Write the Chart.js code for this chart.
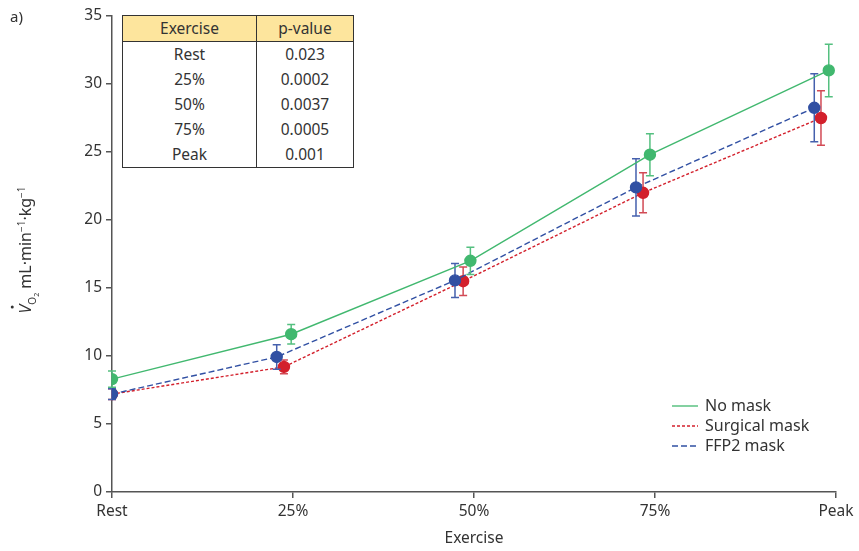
<!DOCTYPE html>
<html>
<head>
  <title>VO2 by exercise level</title>
  <script src="https://cdn.jsdelivr.net/npm/chart.js"></script>
  <style>
    body { margin: 0; background: #fff; font-family: "Noto Sans", sans-serif; color: #333; }
    #wrap { position: relative; width: 859px; height: 551px; }
    #panel { position: absolute; left: 10px; top: 6px; font-size: 15px; }
    #ytitle { position: absolute; left: 27px; top: 250px; transform: translate(-50%, -50%) rotate(-90deg);
      white-space: nowrap; font-size: 16px; }
    #ytitle sub, #ytitle sup { font-size: 10px; }
    #vdot { position: relative; display: inline-block; }
    #vdot b { position: absolute; left: 5px; top: -3px; width: 3px; height: 3px; border-radius: 50%; background: #333; }
    #ptable { position: absolute; left: 122px; top: 15px; border-collapse: collapse; font-size: 15.5px;
      border: 1.5px solid #333; background: #fff; }
    #ptable td, #ptable th { padding: 0; text-align: center; font-weight: normal; height: 25px; line-height: 25px; }
    #ptable th { background: #fde59d; border-bottom: 1.5px solid #333; }
    #ptable .c1 { width: 133px; border-right: 1.5px solid #333; }
    #ptable .c2 { width: 96px; }
  </style>
</head>
<body>
<div id="wrap">
  <canvas id="chart" width="859" height="551"></canvas>
  <div id="panel">a)</div>
  <div id="ytitle"><span id="vdot"><i>V</i><b></b></span><sub>O<sub style="font-size:7px">2</sub></sub> mL·min<sup>−1</sup>·kg<sup>−1</sup></div>
  <table id="ptable"></table>
</div>

<script>
  const categories = ["Rest", "25%", "50%", "75%", "Peak"];

  const noMask = [8.3, 11.6, 17.0, 24.8, 31.0];
  const noMaskErr = [0.6, 0.72, 1.0, 1.55, 1.93];
  const surgical = [7.2, 9.2, 15.5, 22.0, 27.5];
  const surgicalErr = [0.4, 0.5, 1.05, 1.47, 2.0];
  const ffp2 = [7.2, 9.93, 15.56, 22.4, 28.25];
  const ffp2Err = [0.4, 0.9, 1.25, 2.1, 2.5];

  // horizontal jitter of each series, in category units
  const noMaskShift = [0, -0.01, -0.02, -0.028, -0.04];
  const surgicalShift = [0, -0.05, -0.06, -0.066, -0.083];
  const ffp2Shift = [0, -0.09, -0.105, -0.105, -0.12];

  const pExercise = ["Rest", "25%", "50%", "75%", "Peak"];
  const pValues = ["0.023", "0.0002", "0.0037", "0.0005", "0.001"];

  // p-value table
  const tbl = document.getElementById("ptable");
  let html = '<tr><th class="c1">Exercise</th><th class="c2">p-value</th></tr>';
  pExercise.forEach((e, i) => {
    html += '<tr><td class="c1">' + e + '</td><td class="c2">' + pValues[i] + '</td></tr>';
  });
  tbl.innerHTML = html;

  function points(vals, shift) {
    return vals.map((v, i) => ({ x: i + shift[i], y: v }));
  }

  const FONT = "'Noto Sans', sans-serif";
  const TEXT = "#333";

  const errorBars = {
    id: "errorBars",
    beforeDatasetDraw(chart, args) {
      const ds = chart.data.datasets[args.index];
      const meta = args.meta;
      const ctx = chart.ctx;
      const y = chart.scales.y;
      ctx.save();
      ctx.strokeStyle = ds.errColor;
      ctx.lineWidth = 1.5;
      meta.data.forEach((pt, i) => {
        const v = ds.data[i].y, e = ds.err[i];
        const top = y.getPixelForValue(v + e), bot = y.getPixelForValue(v - e);
        ctx.beginPath();
        ctx.moveTo(pt.x, top); ctx.lineTo(pt.x, bot);
        ctx.moveTo(pt.x - 4, top); ctx.lineTo(pt.x + 4, top);
        ctx.moveTo(pt.x - 4, bot); ctx.lineTo(pt.x + 4, bot);
        ctx.stroke();
      });
      ctx.restore();
    }
  };

  const legendBox = {
    id: "legendBox",
    afterDraw(chart) {
      const ctx = chart.ctx;
      ctx.save();
      ctx.font = "16px " + FONT;
      ctx.textBaseline = "middle";
      chart.data.datasets.forEach((ds, i) => {
        const yy = 406 + i * 20;
        ctx.strokeStyle = ds.borderColor;
        ctx.lineWidth = 1.3;
        ctx.setLineDash(ds.borderDash || []);
        ctx.beginPath();
        ctx.moveTo(672, yy); ctx.lineTo(698, yy);
        ctx.stroke();
        ctx.setLineDash([]);
        ctx.fillStyle = TEXT;
        ctx.fillText(ds.label, 705, yy);
      });
      ctx.restore();
    }
  };

  new Chart(document.getElementById("chart"), {
    type: "scatter",
    data: {
      datasets: [
        { label: "No mask", data: points(noMask, noMaskShift), err: noMaskErr, order: 0,
          borderColor: "#41b86f", backgroundColor: "#41b86f", errColor: "#55c080",
          showLine: true, borderWidth: 1.4, pointRadius: 5.5, pointHoverRadius: 5.5 },
        { label: "Surgical mask", data: points(surgical, surgicalShift), err: surgicalErr, order: 2,
          borderColor: "#d3202c", backgroundColor: "#d3202c", errColor: "#d24a55", borderDash: [3, 2],
          showLine: true, borderWidth: 1.4, pointRadius: 5.5, pointHoverRadius: 5.5 },
        { label: "FFP2 mask", data: points(ffp2, ffp2Shift), err: ffp2Err, order: 1,
          borderColor: "#3150a3", backgroundColor: "#3150a3", errColor: "#4560ad", borderDash: [6, 3],
          showLine: true, borderWidth: 1.4, pointRadius: 5.5, pointHoverRadius: 5.5 }
      ]
    },
    options: {
      responsive: false,
      animation: false,
      layout: { padding: { left: 0, right: 23, top: 16, bottom: 0 } },
      plugins: { legend: { display: false }, tooltip: { enabled: false } },
      scales: {
        x: {
          type: "linear", min: 0, max: 4,
          afterFit(s) { s.height = 59; },
          afterBuildTicks(s) { s.ticks = categories.map((c, i) => ({ value: i })); },
          ticks: { color: TEXT, font: { size: 15.5, family: FONT }, padding: 4,
            callback: (v) => categories[v] },
          grid: { drawOnChartArea: false, drawTicks: true, tickLength: 6, color: "#555", lineWidth: 1.5 },
          border: { color: "#555", width: 1.5 },
          title: { display: true, text: "Exercise", color: TEXT, font: { size: 15.5, family: FONT }, padding: { top: 4, bottom: 3 } }
        },
        y: {
          min: 0, max: 35,
          afterFit(s) { s.width = 112; },
          ticks: { stepSize: 5, color: TEXT, font: { size: 15.5, family: FONT }, padding: 4 },
          grid: { drawOnChartArea: false, drawTicks: true, tickLength: 6, color: "#555", lineWidth: 1.5 },
          border: { color: "#555", width: 1.5 }
        }
      }
    },
    plugins: [errorBars, legendBox]
  });
</script>
</body>
</html>
